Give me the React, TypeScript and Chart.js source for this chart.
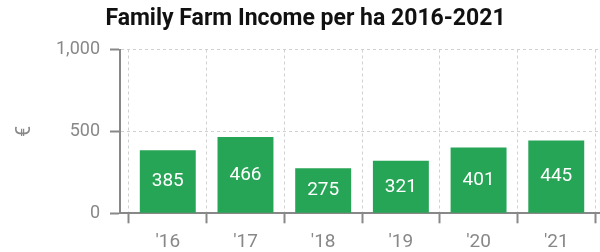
import React, { useEffect, useRef } from "react";
import { Chart, registerables } from "chart.js";

Chart.register(...registerables);

const TITLE = "Family Farm Income per ha 2016-2021";
const yearLabels = ["'16", "'17", "'18", "'19", "'20", "'21"];
const incomeValues = [385, 466, 275, 321, 401, 445];
const yAxisTitle = "€";
const yTicks = [0, 500, 1000];

const GREEN = "#27a556";
const GRAY = "#888888";
const FONT = "Roboto, 'Liberation Sans', Arial, sans-serif";

const barLabelPlugin = {
  id: "barLabels",
  afterDatasetsDraw(chart: any) {
    const ctx = chart.ctx;
    const meta = chart.getDatasetMeta(0);
    ctx.save();
    ctx.fillStyle = "#ffffff";
    ctx.font = `19px ${FONT}`;
    ctx.textAlign = "center";
    ctx.textBaseline = "middle";
    meta.data.forEach((bar: any, i: number) => {
      const { x, y, base } = bar.getProps(["x", "y", "base"], true);
      ctx.fillText(String(incomeValues[i]), x, (y + base) / 2);
    });
    ctx.restore();
  },
};

export default function App() {
  const ref = useRef<HTMLCanvasElement | null>(null);

  useEffect(() => {
    if (!ref.current) return;
    const chart = new Chart(ref.current, {
      type: "bar",
      data: {
        datasets: [
          {
            data: incomeValues.map((v, i) => ({ x: i, y: v })),
            backgroundColor: GREEN,
            borderWidth: 0,
            barPercentage: 0.72,
            categoryPercentage: 1,
          },
        ],
      },
      options: {
        responsive: false,
        animation: false,
        locale: "en-US",
        layout: { padding: { left: 12, right: 1, top: 0, bottom: 0 } },
        plugins: {
          legend: { display: false },
          tooltip: { enabled: false },
          title: {
            display: true,
            text: TITLE,
            color: "#111111",
            font: { family: FONT, size: 23, weight: "bold" },
            padding: { top: 5.5, bottom: 16.4 },
          },
        },
        scales: {
          x: {
            type: "linear",
            min: -0.615,
            max: 5.55,
            offset: false,
            afterFit: (scale: any) => {
              scale.height = 38.7;
            },
            border: { display: true, color: GRAY, width: 2, dash: [3, 3] },
            grid: {
              color: "#d0d0d0",
              lineWidth: 1,
              tickColor: GRAY,
              tickWidth: 2,
              tickLength: 10,
            },
            ticks: {
              stepSize: 1,
              includeBounds: false,
              autoSkip: false,
              maxRotation: 0,
              padding: 7.5,
              color: GRAY,
              font: { family: FONT, size: 19 },
              callback: (v: any) => (yearLabels[v] !== undefined && Number.isInteger(v) ? yearLabels[v] : ""),
            },
          },
          y: {
            min: yTicks[0],
            max: yTicks[yTicks.length - 1],
            afterFit: (scale: any) => {
              scale.width = 108;
            },
            afterBuildTicks: (scale: any) => {
              scale.ticks = yTicks.map((v) => ({ value: v }));
            },
            border: { display: true, color: GRAY, width: 2, dash: [3, 3] },
            grid: {
              color: "#d0d0d0",
              lineWidth: 1,
              tickColor: GRAY,
              tickWidth: 2,
              tickLength: 10,
            },
            ticks: {
              padding: 10,
              color: GRAY,
              font: { family: FONT, size: 18 },
            },
            title: {
              display: true,
              text: yAxisTitle,
              color: GRAY,
              font: { family: FONT, size: 20 },
              padding: { top: 0.5, bottom: 0 },
            },
          },
        },
      },
      plugins: [barLabelPlugin],
    });
    return () => chart.destroy();
  }, []);

  return (
    <div style={{ position: "fixed", left: 0, top: 0, width: 600, height: 252, background: "#fff" }}>
      <canvas ref={ref} width={600} height={252} style={{ display: "block" }} />
    </div>
  );
}
